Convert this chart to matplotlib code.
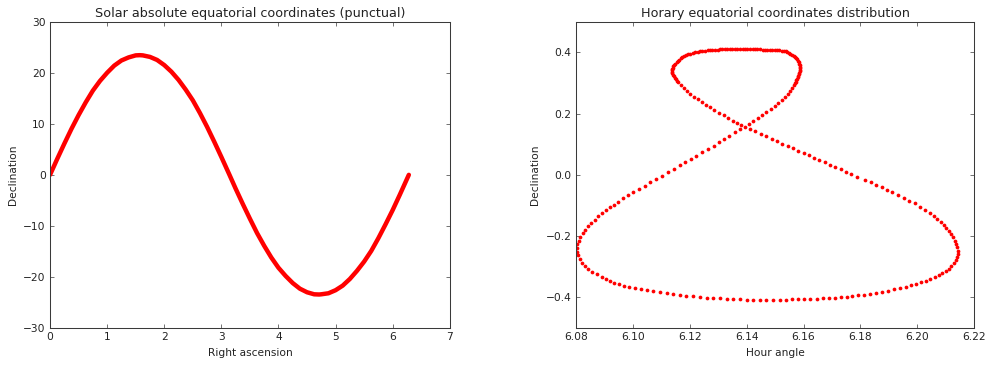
import matplotlib
matplotlib.use("Agg")
import matplotlib.pyplot as plt

# left panel: declination (deg) against right ascension (rad)
ra = [0.0, 0.125, 0.25, 0.375, 0.5, 0.625, 0.75, 0.875, 1.0, 1.125, 1.25, 1.375,
      1.5, 1.571, 1.625, 1.75, 1.875, 2.0, 2.125, 2.25, 2.375, 2.5, 2.625, 2.75,
      2.875, 3.0, 3.142, 3.25, 3.375, 3.5, 3.625, 3.75, 3.875, 4.0, 4.125, 4.25,
      4.375, 4.5, 4.625, 4.712, 4.75, 4.875, 5.0, 5.125, 5.25, 5.375, 5.5, 5.625,
      5.75, 5.875, 6.0, 6.125, 6.283]
dec_deg = [0.0, 3.1, 6.1, 9.0, 11.7, 14.2, 16.5, 18.4, 20.0, 21.4, 22.4, 23.0,
           23.4, 23.44, 23.4, 23.1, 22.5, 21.5, 20.2, 18.6, 16.7, 14.6, 12.1, 9.4,
           6.5, 3.5, 0.0, -2.7, -5.7, -8.6, -11.4, -13.9, -16.2, -18.2, -19.8, -21.2,
           -22.3, -23.0, -23.4, -23.44, -23.4, -23.2, -22.6, -21.7, -20.4, -18.8, -17.0, -14.9,
           -12.4, -9.7, -6.9, -3.9, 0.0]

# right panel: hour angle / declination (rad), traced round the figure eight
hour_angle = [
    # crossing, then up the right side of the upper loop
    6.1394, 6.1409, 6.1424, 6.1440, 6.1455, 6.1470, 6.1485, 6.1499, 6.1512, 6.1524,
    6.1534, 6.1544, 6.1552, 6.1559, 6.1566, 6.1569, 6.1572, 6.1574, 6.1576, 6.1579,
    6.1581, 6.1583, 6.1585, 6.1586, 6.1587, 6.1587, 6.1587, 6.1586, 6.1585, 6.1583,
    6.1580, 6.1577, 6.1573, 6.1569, 6.1565, 6.1560, 6.1554, 6.1549, 6.1543, 6.1537,
    # top of the loop
    6.1530, 6.1523, 6.1515, 6.1507, 6.1499, 6.1491, 6.1482, 6.1473, 6.1464, 6.1456,
    6.1447, 6.1438, 6.1429, 6.1421, 6.1412, 6.1403, 6.1394, 6.1386, 6.1377, 6.1368,
    6.1359, 6.1350, 6.1341, 6.1333, 6.1324, 6.1315, 6.1306, 6.1298, 6.1289, 6.1280,
    6.1271, 6.1263, 6.1254, 6.1245, 6.1236, 6.1228, 6.1219, 6.1211, 6.1203, 6.1196,
    # left side of the loop, back down to the crossing
    6.1189, 6.1182, 6.1175, 6.1170, 6.1164, 6.1159, 6.1154, 6.1150, 6.1146, 6.1143,
    6.1140, 6.1139, 6.1138, 6.1138, 6.1139, 6.1141, 6.1144, 6.1147, 6.1151, 6.1155,
    6.1159, 6.1168, 6.1179, 6.1191, 6.1202, 6.1215, 6.1228, 6.1242, 6.1256, 6.1271,
    6.1286, 6.1303, 6.1319, 6.1336, 6.1352, 6.1368, 6.1382,
    # branch going down to the right
    6.1413, 6.1431, 6.1450, 6.1469, 6.1488, 6.1506, 6.1525, 6.1544, 6.1562, 6.1581,
    6.1600, 6.1619, 6.1637, 6.1656, 6.1675, 6.1693, 6.1712, 6.1731, 6.1750, 6.1768,
    6.1787, 6.1817, 6.1836, 6.1856, 6.1874, 6.1893, 6.1912, 6.1932, 6.1952, 6.1971,
    6.1991, 6.2008, 6.2026, 6.2043,
    # right bulge
    6.2057, 6.2070, 6.2082, 6.2092, 6.2102, 6.2110, 6.2118, 6.2125, 6.2131, 6.2136,
    6.2139, 6.2141, 6.2141, 6.2139, 6.2134, 6.2127, 6.2119, 6.2110, 6.2099, 6.2088,
    6.2075, 6.2061, 6.2045, 6.2029, 6.2013, 6.1996, 6.1979, 6.1961,
    # bottom arc
    6.1940, 6.1919, 6.1898, 6.1877, 6.1856, 6.1835, 6.1814, 6.1793, 6.1772, 6.1751,
    6.1730, 6.1709, 6.1688, 6.1667, 6.1646, 6.1624, 6.1603, 6.1582, 6.1561, 6.1540,
    6.1517, 6.1493, 6.1470, 6.1447, 6.1423, 6.1400, 6.1376, 6.1353, 6.1330, 6.1306,
    6.1283, 6.1260, 6.1236, 6.1213, 6.1189, 6.1166, 6.1143, 6.1119, 6.1096, 6.1072,
    6.1050, 6.1028, 6.1007, 6.0987, 6.0968, 6.0951, 6.0934, 6.0919, 6.0905, 6.0892,
    # left bulge
    6.0875, 6.0858, 6.0844, 6.0833, 6.0822, 6.0814, 6.0808, 6.0805, 6.0803, 6.0806,
    6.0810, 6.0816, 6.0824, 6.0834, 6.0844, 6.0855, 6.0867, 6.0879, 6.0892, 6.0906,
    # branch going up to the crossing
    6.0920, 6.0934, 6.0950, 6.0967, 6.0985, 6.1002, 6.1022, 6.1042, 6.1062, 6.1083,
    6.1104, 6.1125, 6.1145, 6.1165, 6.1185, 6.1205, 6.1224, 6.1244, 6.1264, 6.1284,
    6.1303, 6.1322, 6.1340, 6.1359, 6.1376,
]
declination = [
    0.1573, 0.1671, 0.1769, 0.1867, 0.1965, 0.2063, 0.2161, 0.2259, 0.2357, 0.2454,
    0.2552, 0.2650, 0.2748, 0.2846, 0.2944, 0.2993, 0.3042, 0.3091, 0.3140, 0.3189,
    0.3238, 0.3287, 0.3336, 0.3385, 0.3434, 0.3483, 0.3532, 0.3581, 0.3630, 0.3679,
    0.3727, 0.3771, 0.3815, 0.3853, 0.3890, 0.3923, 0.3956, 0.3983, 0.4010, 0.4027,
    0.4043, 0.4054, 0.4065, 0.4071, 0.4076, 0.4079, 0.4082, 0.4085, 0.4088, 0.4090,
    0.4092, 0.4092, 0.4092, 0.4093, 0.4094, 0.4094, 0.4094, 0.4094, 0.4094, 0.4094,
    0.4094, 0.4094, 0.4094, 0.4093, 0.4092, 0.4092, 0.4092, 0.4090, 0.4088, 0.4083,
    0.4076, 0.4066, 0.4054, 0.4043, 0.4032, 0.4016, 0.3999, 0.3978, 0.3956, 0.3929,
    0.3901, 0.3869, 0.3837, 0.3799, 0.3760, 0.3717, 0.3673, 0.3630, 0.3586, 0.3543,
    0.3499, 0.3456, 0.3412, 0.3363, 0.3314, 0.3265, 0.3216, 0.3167, 0.3118, 0.3069,
    0.3020, 0.2922, 0.2824, 0.2726, 0.2639, 0.2552, 0.2465, 0.2378, 0.2291, 0.2204,
    0.2117, 0.2030, 0.1943, 0.1856, 0.1769, 0.1682, 0.1617,
    0.1497, 0.1421, 0.1334, 0.1258, 0.1181, 0.1105, 0.1018, 0.0942, 0.0866, 0.0790,
    0.0713, 0.0637, 0.0561, 0.0485, 0.0409, 0.0332, 0.0256, 0.0180, 0.0104, 0.0028,
    -0.0059, -0.0168, -0.0244, -0.0320, -0.0408, -0.0495, -0.0571, -0.0659, -0.0745, -0.0843,
    -0.0930, -0.1039, -0.1148, -0.1256,
    -0.1343, -0.1441, -0.1539, -0.1637, -0.1735, -0.1833, -0.1931, -0.2040, -0.2149, -0.2258,
    -0.2366, -0.2475, -0.2584, -0.2693, -0.2791, -0.2889, -0.2976, -0.3063, -0.3139, -0.3205,
    -0.3270, -0.3335, -0.3400, -0.3455, -0.3509, -0.3563, -0.3607, -0.3650,
    -0.3694, -0.3737, -0.3781, -0.3813, -0.3846, -0.3879, -0.3911, -0.3933, -0.3955, -0.3977,
    -0.3987, -0.4009, -0.4020, -0.4031, -0.4042, -0.4052, -0.4052, -0.4063, -0.4063, -0.4074,
    -0.4075, -0.4075, -0.4075, -0.4075, -0.4075, -0.4075, -0.4064, -0.4053, -0.4042, -0.4031,
    -0.4020, -0.4010, -0.3988, -0.3966, -0.3944, -0.3922, -0.3901, -0.3868, -0.3835, -0.3803,
    -0.3770, -0.3737, -0.3705, -0.3661, -0.3618, -0.3574, -0.3520, -0.3465, -0.3400, -0.3335,
    -0.3248, -0.3161, -0.3074, -0.2976, -0.2867, -0.2747, -0.2628, -0.2508, -0.2388, -0.2268,
    -0.2149, -0.2029, -0.1909, -0.1790, -0.1670, -0.1572, -0.1463, -0.1354, -0.1256, -0.1158,
    -0.1060, -0.0973, -0.0876, -0.0767, -0.0669, -0.0571, -0.0462, -0.0353, -0.0244, -0.0136,
    -0.0027, 0.0082, 0.0202, 0.0311, 0.0409, 0.0518, 0.0626, 0.0735, 0.0844, 0.0953,
    0.1062, 0.1170, 0.1279, 0.1388, 0.1486,
]

plt.rcParams.update({
    "font.family": "DejaVu Sans",
    "font.size": 7.7,
    "axes.edgecolor": "#3a3a3a",
    "axes.linewidth": 0.75,
    "axes.titlepad": 3.5,
    "xtick.direction": "in",
    "ytick.direction": "in",
    "xtick.top": True,
    "ytick.right": True,
    "xtick.major.size": 2.7,
    "ytick.major.size": 2.7,
    "xtick.major.width": 0.5,
    "ytick.major.width": 0.5,
    "xtick.major.pad": 3.1,
    "ytick.major.pad": 3.1,
    "xtick.color": "#3a3a3a",
    "ytick.color": "#3a3a3a",
    "xtick.labelcolor": "#222222",
    "ytick.labelcolor": "#222222",
    "text.color": "#222222",
    "axes.labelcolor": "#222222",
})

fig = plt.figure(figsize=(9.87, 3.65), dpi=100)
ax1 = fig.add_axes([0.0507, 0.1014, 0.4050, 0.8392])
ax2 = fig.add_axes([0.5833, 0.1014, 0.4039, 0.8392])

ax1.plot(ra, dec_deg, color="#ff0000", linewidth=3.2,
         solid_capstyle="round", solid_joinstyle="round")
ax1.set_xlim(0, 7)
ax1.set_ylim(-30, 30)
ax1.set_xticks(range(0, 8))
ax1.set_yticks(range(-30, 31, 10))
ax1.set_title("Solar absolute equatorial coordinates (punctual)", fontsize=9.2)
ax1.set_xlabel("Right ascension")
ax1.set_ylabel("Declination")

ax2.plot(hour_angle, declination, linestyle="none", marker="o",
         markersize=2.7, markeredgewidth=0, color="#ff0000")
ax2.set_xlim(6.08, 6.22)
ax2.set_ylim(-0.5, 0.5)
ax2.set_xticks([6.08, 6.10, 6.12, 6.14, 6.16, 6.18, 6.20, 6.22])
ax2.set_xticklabels(["6.08", "6.10", "6.12", "6.14", "6.16", "6.18", "6.20", "6.22"])
ax2.set_yticks([-0.4, -0.2, 0.0, 0.2, 0.4])
ax2.set_yticklabels(["\u22120.4", "\u22120.2", "0.0", "0.2", "0.4"])
ax2.set_title("Horary equatorial coordinates distribution", fontsize=9.2)
ax2.set_xlabel("Hour angle")
ax2.set_ylabel("Declination")

fig.savefig("out.png", dpi=100)
plt.close(fig)
